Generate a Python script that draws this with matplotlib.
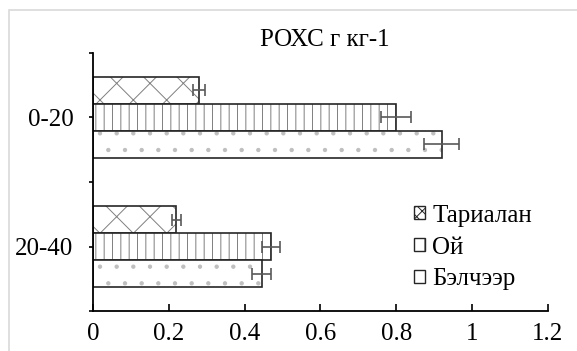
import matplotlib
matplotlib.use("Agg")
import matplotlib.pyplot as plt
from matplotlib.patches import Patch, Rectangle
import numpy as np

plt.rcParams['font.family'] = ['Liberation Serif', 'DejaVu Serif']
plt.rcParams['hatch.linewidth'] = 0.7

# data
depths = ['0-20', '20-40']
series = ['Тариалан', 'Ой', 'Бэлчээр']
tarialan = [0.28, 0.22]
tarialan_err = [0.015, 0.012]
oi = [0.80, 0.47]
oi_err = [0.04, 0.024]
belcheer = [0.92, 0.445]
belcheer_err = [0.046, 0.025]

values = [tarialan, oi, belcheer]
errors = [tarialan_err, oi_err, belcheer_err]
hatches = ['x', '||', '.']
hatch_cols = ['#7f7f7f', '#7f7f7f', '#bfbfbf']

fig = plt.figure(figsize=(5.77, 3.51), dpi=100)
ax = fig.add_axes([0.1612, 0.1128, 0.7885, 0.7373])

y = np.arange(len(depths))
h = 0.209
offsets = [-h, 0, h]

for vals, errs, off, hat, hc in zip(values, errors, offsets, hatches, hatch_cols):
    ax.barh(y + off, vals, height=h, color='white', edgecolor=hc, hatch=hat, linewidth=0)
    ax.barh(y + off, vals, height=h, color='none', edgecolor='#262626', linewidth=1.2)
    ax.errorbar(vals, y + off, xerr=errs, fmt='none', ecolor='#595959',
                elinewidth=1.2, capsize=4.3, capthick=1.2)

ax.set_ylim(1.5, -0.5)
ax.set_xlim(0, 1.2)
ax.set_xticks([0, 0.2, 0.4, 0.6, 0.8, 1, 1.2])
ax.set_xticklabels(['0', '0.2', '0.4', '0.6', '0.8', '1', '1.2'])
ax.set_yticks(y)
ax.set_yticklabels(depths)
ax.set_yticks([-0.5, 0.5, 1.5], minor=True)

for s in ['top', 'right']:
    ax.spines[s].set_visible(False)
for s in ['left', 'bottom']:
    ax.spines[s].set_linewidth(1.3)
    ax.spines[s].set_color('black')

ax.tick_params(axis='x', direction='in', length=5, width=1.2, labelsize=18, pad=8)
ax.tick_params(axis='y', which='both', direction='out', length=3, width=1.2, labelsize=18, pad=11)

fig.text(325 / 577, 1 - 40 / 351, 'РОХС г кг-1', ha='center', va='center', fontsize=18)

handles = [Patch(facecolor='white', edgecolor='#262626', hatch=hat, linewidth=1)
           for hat in ['xxx', '|', '']]
leg = ax.legend(handles, series, loc='upper left', bbox_to_anchor=(401 / 577, 1 - 192 / 351),
                bbox_transform=fig.transFigure, frameon=False, fontsize=18,
                handlelength=0.45, handleheight=0.45, handletextpad=0.3,
                labelspacing=0.4, borderpad=0)

fig.patches.append(Rectangle((8.7 / 577, -0.5), 2, 0.5 + 1 - 10 / 351,
                             transform=fig.transFigure, fill=False,
                             edgecolor='#d9d9d9', linewidth=1.2))

fig.savefig('out.png', dpi=100)
